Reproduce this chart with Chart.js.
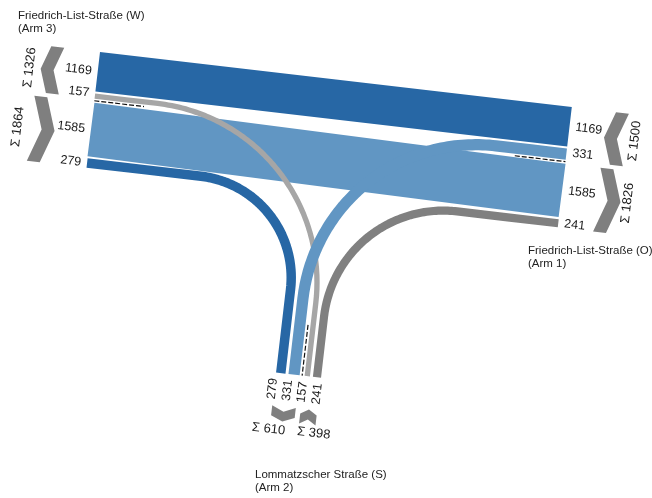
<!DOCTYPE html>
<html>
<head>
<meta charset="utf-8">
<script src="https://cdn.jsdelivr.net/npm/chart.js@4.4.0/dist/chart.umd.min.js"></script>
<style>
  html, body { margin: 0; padding: 0; background: #fff; }
  canvas { display: block; }
</style>
</head>
<body>
<canvas id="flowChart" width="652" height="498"></canvas>
<script>
// Knotenstromplan Friedrich-List-Straße / Lommatzscher Straße
const armNames = ['Friedrich-List-Straße (O)', 'Lommatzscher Straße (S)', 'Friedrich-List-Straße (W)'];
const armTags = ['(Arm 1)', '(Arm 2)', '(Arm 3)'];
const flowFrom = ['W', 'W', 'O', 'O', 'S', 'S'];
const flowTo = ['O', 'S', 'W', 'S', 'W', 'O'];
const flowValues = [1585, 279, 1169, 331, 157, 241];

// lanes at each arm (flow index), first group / second group
const westLanes = [[2, 4], [0, 1]];   // top -> bottom
const eastLanes = [[2, 3], [0, 5]];   // top -> bottom
const southLanes = [[1, 3], [4, 5]];  // left -> right

// styles
const flowColors = ['#6196c3', '#2767a5', '#2767a5', '#6196c3', '#a6a6a6', '#808080'];
const turnRadius = [0, 102, 0, 174, 180, 120];
const chevronColor = '#7f7f7f';
const FONT = '"Liberation Sans", Arial, sans-serif';

// layout: diagram is drawn in a local frame, rotated a little
const PX = 0.034;
const ANG = 6.65 * Math.PI / 180;
const ORIGIN = { x: 100, y: 52 };
const EAST_END = 475, SOUTH_END = 298, SOUTH_START = 212;
const CH_T = 13, CH_D = 0.17;
const sn = Math.sin(ANG), cs = Math.cos(ANG);

function P(lx, ly) {
  return { x: ORIGIN.x + lx * cs - ly * sn, y: ORIGIN.y + lx * sn + ly * cs };
}

function stack(groups, start, gap, mid) {
  const lanes = {}, bounds = [];
  let p = start;
  groups.forEach((g, gi) => {
    if (gi) p += mid;
    const g0 = p;
    g.forEach((f, k) => {
      if (k) p += gap;
      const w = flowValues[f] * PX;
      lanes[f] = { a: p, b: p + w, c: p + w / 2, w: w };
      p += w;
    });
    bounds.push([g0, p]);
  });
  return { lanes, bounds, divider: (bounds[0][1] + bounds[1][0]) / 2 };
}

const W = stack(westLanes, 0, 2, 4);
const E = stack(eastLanes, 0, 2, 4);
const SO = stack(southLanes, SOUTH_START, 3, 5);

function arc(cx, cy, r, a0, a1, n) {
  const pts = [];
  for (let k = 0; k <= n; k++) {
    const a = a0 + (a1 - a0) * k / n;
    pts.push([cx + r * Math.cos(a), cy + r * Math.sin(a)]);
  }
  return pts;
}

function flowPath(f) {
  const R = turnRadius[f];
  if (flowFrom[f] === 'W' && flowTo[f] === 'O') return [[0, W.lanes[f].c], [EAST_END, E.lanes[f].c]];
  if (flowFrom[f] === 'O' && flowTo[f] === 'W') return [[EAST_END, E.lanes[f].c], [0, W.lanes[f].c]];
  const b = SO.lanes[f].c;
  if (flowFrom[f] === 'W' || flowTo[f] === 'W') {
    const a = W.lanes[f].c;
    return [[0, a]].concat(arc(b - R, a + R, R, -Math.PI / 2, 0, 40), [[b, SOUTH_END]]);
  }
  const a = E.lanes[f].c;
  return [[EAST_END, a]].concat(arc(b + R, a + R, R, -Math.PI / 2, -Math.PI, 40), [[b, SOUTH_END]]);
}

function chevronSide(dir, L, y0, y1) {
  const t = CH_T, d = CH_D * (y1 - y0), m = (y0 + y1) / 2;
  if (dir < 0) return [[L + d, y0], [L + d + t, y0], [L + t, m], [L + d + t, y1], [L + d, y1], [L, m]];
  return [[L, y0], [L + t, y0], [L + t + d, m], [L + t, y1], [L, y1], [L + d, m]];
}
function chevronSouth(dir, T, x0, x1) {
  const t = 10, d = 5, m = (x0 + x1) / 2;
  if (dir > 0) return [[x0, T], [m, T + d], [x1, T], [x1, T + t], [m, T + d + t], [x0, T + t]];
  return [[x0, T + d], [m, T], [x1, T + d], [x1, T + d + t], [m, T + t], [x0, T + d + t]];
}

const datasets = [];
function addLine(pts, color, width, dash) {
  datasets.push({
    data: pts.map(p => P(p[0], p[1])),
    showLine: true, borderColor: color, borderWidth: width,
    borderCapStyle: 'butt', borderJoinStyle: 'round',
    borderDash: dash || [], tension: dash ? 0 : 0.0001,
    pointRadius: 0, fill: false
  });
}
function addShape(pts, color) {
  datasets.push({
    data: pts.map(p => P(p[0], p[1])),
    showLine: true, borderColor: 'rgba(0,0,0,0)', borderWidth: 0,
    backgroundColor: color, fill: 'shape', pointRadius: 0, tension: 0
  });
}

// bottom to top
[2, 0, 1, 5, 4, 3].forEach(f => addLine(flowPath(f), flowColors[f], flowValues[f] * PX));
addLine([[0, W.divider], [50, W.divider]], '#111', 1.2, [5, 2]);
addLine([[424, E.divider], [EAST_END, E.divider]], '#111', 1.2, [5, 2]);
addLine([[SO.divider, 247], [SO.divider, SOUTH_END]], '#111', 1.2, [5, 2]);

// chevron extents: west ones end at WCH, east ones start at ECH
const WCH = -36, ECH = 510.5, SCH = 331;
const depth = b => CH_D * (b[1] - b[0]);
const wLeft = W.bounds.map(b => WCH - CH_T - depth(b));
const eRight = E.bounds.map(b => ECH + CH_T + depth(b));
addShape(chevronSide(-1, wLeft[0], W.bounds[0][0], W.bounds[0][1]), chevronColor);
addShape(chevronSide(1, wLeft[1], W.bounds[1][0], W.bounds[1][1]), chevronColor);
addShape(chevronSide(-1, ECH, E.bounds[0][0], E.bounds[0][1]), chevronColor);
addShape(chevronSide(1, ECH, E.bounds[1][0], E.bounds[1][1]), chevronColor);
addShape(chevronSouth(1, SCH, SO.bounds[0][0], SO.bounds[0][1]), chevronColor);
addShape(chevronSouth(-1, SCH, SO.bounds[1][0], SO.bounds[1][1]), chevronColor);
datasets.forEach((d, i) => { d.order = datasets.length - i; });

function sum(list) { return list.reduce((s, f) => s + flowValues[f], 0); }
const mid = b => (b[0] + b[1]) / 2;

const labelPlugin = {
  id: 'flowLabels',
  afterDatasetsDraw(chart) {
    const ctx = chart.ctx, xs = chart.scales.x, ys = chart.scales.y;
    function text(str, lx, ly, rot, align, font, color) {
      const p = P(lx, ly);
      ctx.save();
      ctx.translate(xs.getPixelForValue(p.x), ys.getPixelForValue(p.y));
      ctx.rotate(ANG + rot);
      ctx.font = font;
      ctx.fillStyle = color;
      ctx.textAlign = align;
      ctx.textBaseline = 'middle';
      ctx.fillText(str, 0, 0);
      ctx.restore();
    }
    const numFont = '12.5px ' + FONT, sumFont = '13px ' + FONT, up = -Math.PI / 2, ink = '#1a1a1a';
    westLanes.flat().forEach(f => text(String(flowValues[f]), -6, W.lanes[f].c - (f === 4 ? 2.5 : 0), 0, 'right', numFont, ink));
    eastLanes.flat().forEach(f => text(String(flowValues[f]), 481, E.lanes[f].c - (f === 3 ? 1.5 : 0), 0, 'left', numFont, ink));
    const sl = southLanes.flat();
    const sMid = sl.reduce((s, f) => s + SO.lanes[f].c, 0) / sl.length - 3;
    sl.forEach((f, i) => text(String(flowValues[f]), sMid + (i - 1.5) * 15, 304, up, 'right', numFont, ink));

    // sums
    text('Σ ' + sum(westLanes[0]), wLeft[0] - 11, mid(W.bounds[0]), up, 'center', sumFont, ink);
    text('Σ ' + sum(westLanes[1]), wLeft[1] - 13, mid(W.bounds[1]), up, 'center', sumFont, ink);
    text('Σ ' + sum(eastLanes[0]), eRight[0] + 9, mid(E.bounds[0]), up, 'center', sumFont, ink);
    text('Σ ' + sum(eastLanes[1]), eRight[1] + 7, mid(E.bounds[1]), up, 'center', sumFont, ink);
    text('Σ ' + sum(southLanes[0]), SO.bounds[0][1] - 8, 355, 0, 'right', sumFont, ink);
    text('Σ ' + sum(southLanes[1]), SO.bounds[1][0] - 1, 354, 0, 'left', sumFont, ink);

    // arm names
    ctx.save();
    ctx.font = '11.5px ' + FONT;
    ctx.fillStyle = '#222';
    ctx.textAlign = 'left';
    ctx.textBaseline = 'alphabetic';
    const titlePos = [[528, 254], [255, 478], [18, 19]];
    armNames.forEach((n, i) => {
      ctx.fillText(n, titlePos[i][0], titlePos[i][1]);
      ctx.fillText(armTags[i], titlePos[i][0], titlePos[i][1] + 13);
    });
    ctx.restore();
  }
};

new Chart(document.getElementById('flowChart').getContext('2d'), {
  type: 'scatter',
  data: { datasets: datasets },
  options: {
    responsive: false,
    animation: false,
    devicePixelRatio: 1,
    events: [],
    layout: { padding: 0 },
    plugins: { legend: { display: false }, tooltip: { enabled: false } },
    scales: {
      x: { type: 'linear', min: 0, max: 652, display: false },
      y: { type: 'linear', min: 0, max: 498, reverse: true, display: false }
    }
  },
  plugins: [labelPlugin]
});
</script>
</body>
</html>
